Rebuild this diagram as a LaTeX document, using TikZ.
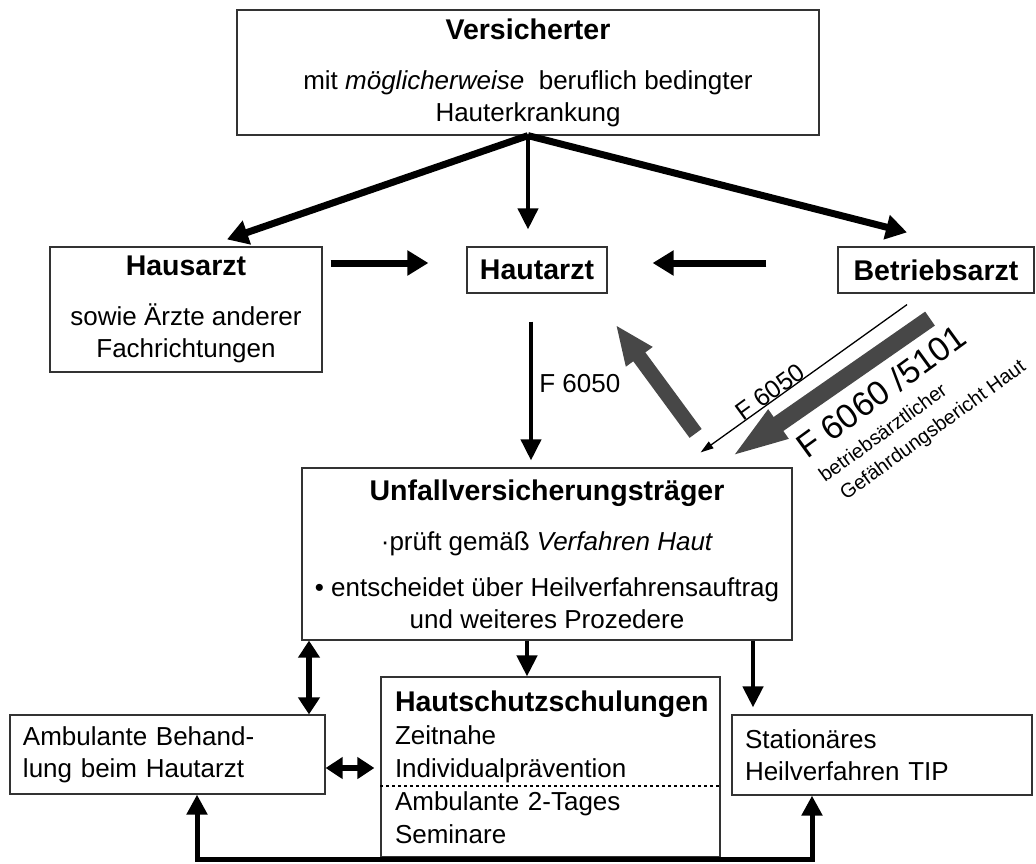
\documentclass[tikz,border=0pt]{standalone}
\usepackage{fontspec}
\setmainfont{Liberation Sans}
\usetikzlibrary{calc, arrows.meta}
\usetikzlibrary{positioning}

\newcommand{\bodysize}{\fontsize{26}{32}\selectfont}
\newcommand{\headsize}{\fontsize{28.5}{34}\selectfont\bfseries}

\begin{document}
\begin{tikzpicture}[x=1pt, y=-1pt,
    box/.style={draw=black!80, line width=1.2pt, fill=white, inner sep=0pt, align=center, font=\bodysize},
    leftbox/.style={box, align=left, inner xsep=13pt},
    arr/.style={line width=4.5pt, -{Triangle[length=21pt,width=20pt]}},
    bigarr/.style={line width=7pt, -{Triangle[length=21pt,width=24pt]}},
    dblarr/.style={line width=5.5pt, {Triangle[length=17pt,width=21pt]}-{Triangle[length=17pt,width=21pt]}},
    thinarr/.style={line width=1.3pt, -{Triangle[length=13pt,width=8pt]}},
    grayarr/.style={draw=black!72, line width=15pt, -{Triangle[length=40pt,width=30pt]}},
    slanted/.style={anchor=base west, rotate=36, inner sep=0pt, font=\fontsize{20}{24}\selectfont}]
        \useasboundingbox (0,0) rectangle (1036,863);
        \node[box, minimum width=582pt, minimum height=125pt] (vers) at (528,72.5)
            {{\headsize Versicherter}\\[18pt] mit \textit{möglicherweise}\ \ beruflich bedingter\\ Hauterkrankung};
        \node[box, minimum width=272pt, minimum height=125pt] (haus) at (186,309.5)
            {{\headsize Hausarzt}\\[18pt] sowie Ärzte anderer\\ Fachrichtungen};
        \node[box, minimum width=140pt, minimum height=46pt] (haut) at (537,270) {\headsize Hautarzt};
        \node[box, minimum width=196pt, minimum height=46pt] (betr) at (936,270) {\headsize Betriebsarzt};
        \node[box, minimum width=490pt, minimum height=172pt] (uvt) at (547,554)
            {{\headsize Unfallversicherungsträger}\\[18pt] ·prüft gemäß \textit{Verfahren Haut}\\[14pt]
             • entscheidet über Heilverfahrensauftrag\\ und weiteres Prozedere};
        \node[leftbox, text width=289pt, minimum height=79pt] (amb) at (167.5,754.5)
            {Ambulante Behand-\\ lung beim Hautarzt};
        \node[leftbox, inner xsep=14pt, text width=311pt, minimum height=180pt, font=\fontsize{26}{33}\selectfont] (hs) at (550.5,767)
            {{\headsize Hautschutzschulungen}\\ Zeitnahe\\ Individualprävention\\ Ambulante 2-Tages\\ Seminare};
        \node[leftbox, text width=274pt, minimum height=80pt] (stat) at (882,755)
            {Stationäres\\ Heilverfahren TIP};
        \coordinate (sep) at (0,786);
        \draw[dashed, line width=1.2pt] (hs.west |- sep) -- (hs.east |- sep);

        \draw[bigarr] (vers.south) -- ($(haus.north)+(41,-7)$);
        \draw[arr, line width=4pt] (vers.south) -- ($(vers.south |- haut.north)+(0,-17)$);
        \draw[bigarr] (vers.south) -- ($(betr.north)+(-29,-14)$);
        \coordinate (hrow) at ($(haut.west)+(0,-7)$);
        \draw[bigarr, shorten <=8pt, shorten >=38pt] (haus.east |- hrow) -- (hrow);
        \draw[bigarr, shorten <=71pt, shorten >=45pt] (betr.west |- hrow) -- (hrow -| haut.east);

        \coordinate (fx) at (531,0);
        \draw[arr, line width=4pt, shorten <=28pt, shorten >=7pt] (haut.south -| fx) -- node[pos=0.52, right=3pt, font=\bodysize] (flab) {F 6050} (uvt.north -| fx);
        \draw[grayarr] ($(uvt.north east)+(-97,-34)$) -- ($(haut.south east)+(8,31)$);
        \draw[thinarr] ($(betr.south)+(-29,11)$) -- ($(uvt.north east)+(-92,-15)$);
        \draw[grayarr, line width=17pt, -{Triangle[length=62pt,width=30pt]}] ($(betr.south)+(-6,25)$) -- ($(uvt.north east)+(-65,-8)$);
        \node[rotate=36, font=\fontsize{25}{30}\selectfont] (thinlab) at (770,392) {F 6050};
        \node[slanted, font=\fontsize{34}{39}\selectfont] (formlab) at (807,460) {F 6060 /5101};
        \node[slanted] (berlab) at (825,483) {betriebsärztlicher};
        \node[slanted] (gefab) at (846,501) {Gefährdungsbericht Haut};

        \coordinate (d1) at (309,0);
        \coordinate (d2) at (527,0);
        \coordinate (d3) at (753,0);
        \coordinate (hd) at (0,768);
        \draw[dblarr] (uvt.south -| d1) -- (amb.north -| d1);
        \draw[arr] (uvt.south -| d2) -- (hs.north -| d2);
        \draw[arr, shorten >=7pt] (uvt.south -| d3) -- (stat.north -| d3);
        \draw[dblarr, shorten >=6pt] (amb.east |- hd) -- (hs.west |- hd);
        \coordinate (bl) at (197,859);
        \coordinate (br) at (812,859);
        \draw[line width=5pt, {Triangle[length=20pt,width=20pt]}-{Triangle[length=20pt,width=20pt]}] (amb.south -| bl) -- (bl) -- (br) -- (stat.south -| br);
    \end{tikzpicture}
\end{document}
